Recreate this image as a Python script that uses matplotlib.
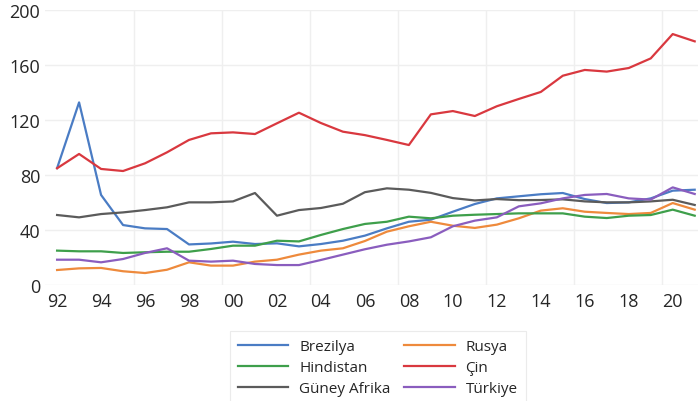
import numpy as np
import matplotlib
matplotlib.use("Agg")
import matplotlib.pyplot as plt

years = list(range(1992, 2022))

brezilya = [85, 132.8, 65.5, 43.6, 41.2, 40.7, 29.5, 30.2, 31.5, 29.8, 30.3, 28.1, 29.8, 32.2,
            35.9, 41.2, 46.0, 47.5, 53.3, 58.9, 63.0, 64.5, 66.0, 66.9, 62.5, 59.6, 60.1, 63.0, 68.6, 69.3]
rusya = [10.9, 12.1, 12.4, 10.0, 8.7, 11.1, 16.5, 14.1, 14.1, 17.0, 18.4, 22.1, 25.0, 26.7,
         32.0, 38.8, 42.7, 46.0, 43.1, 41.5, 43.9, 48.5, 54.1, 55.8, 53.3, 52.4, 51.6, 52.4, 59.6, 54.8]
hindistan = [25.0, 24.5, 24.5, 23.3, 23.8, 24.2, 24.2, 26.2, 28.6, 28.6, 32.2, 31.7, 36.4, 40.7,
             44.4, 46.0, 49.7, 48.5, 50.4, 51.1, 51.6, 52.1, 52.1, 52.1, 49.7, 48.7, 50.4, 50.9, 54.8, 50.4]
cin = [84.9, 95.3, 84.4, 82.9, 88.5, 96.5, 105.5, 110.3, 111.0, 109.8, 117.6, 125.3, 117.8, 111.5,
       109.0, 105.5, 101.8, 124.1, 126.5, 122.9, 130.0, 135.3, 140.4, 152.2, 156.4, 155.2, 157.8, 164.8, 182.5, 177.2]
guney_afrika = [50.9, 49.2, 51.6, 52.8, 54.5, 56.5, 60.1, 60.1, 60.8, 66.9, 50.4, 54.5, 56.0, 59.1,
                67.5, 70.3, 69.3, 67.0, 63.2, 61.5, 62.5, 61.7, 61.8, 62.3, 60.8, 60.1, 60.1, 60.8, 62.0, 58.2]
turkiye = [18.4, 18.4, 16.5, 18.9, 23.3, 26.7, 17.7, 17.0, 17.7, 15.3, 14.5, 14.5, 18.2, 22.1,
           26.0, 29.3, 31.7, 34.7, 42.7, 46.8, 49.2, 57.2, 59.4, 63.0, 65.5, 66.2, 63.0, 62.1, 71.0, 66.2]

series = [
    ("Brezilya", brezilya, "#4A7CC4"),
    ("Rusya", rusya, "#EE8A3C"),
    ("Hindistan", hindistan, "#3E9F4B"),
    ("Çin", cin, "#D9383F"),
    ("Güney Afrika", guney_afrika, "#5B5B5B"),
    ("Türkiye", turkiye, "#8A5DBE"),
]

plt.rcParams["font.family"] = ["Open Sans", "DejaVu Sans"]

fig = plt.figure(figsize=(6.98, 4.02), dpi=100)
ax = fig.add_axes([45 / 698, 116 / 402, 653 / 698, 275 / 402])

lines = {}
for name, vals, col in series:
    lines[name], = ax.plot(years, vals, color=col, lw=1.6, label=name)

ax.set_xlim(1991.45, 2021.15)
ax.set_ylim(0, 200)
ax.set_yticks(np.arange(0, 201, 40))
ax.set_xticks(years[::2])
ax.set_xticklabels([f"{y % 100:02d}" for y in years[::2]])
ax.set_xticks(np.arange(1995.5, 2022, 4), minor=True)

ax.grid(axis="y", which="major", color="#EFEFEF", lw=1)
ax.grid(axis="x", which="minor", color="#EFEFEF", lw=1)
ax.set_axisbelow(True)
ax.tick_params(axis="both", which="both", length=0, labelsize=13, colors="#262626")
ax.tick_params(axis="x", pad=5)
for s in ax.spines.values():
    s.set_visible(False)

# matplotlib fills legend columns first, reference reads row by row
order = ["Brezilya", "Hindistan", "Güney Afrika", "Rusya", "Çin", "Türkiye"]
leg = fig.legend([lines[n] for n in order], order,
                 loc="upper left", bbox_to_anchor=(222 / 698, 1 - 324 / 402), ncol=2,
                 fontsize=11, handlelength=3.3, handletextpad=0.7, columnspacing=0.9,
                 labelspacing=0.4, frameon=True, fancybox=False, borderpad=0.55)
leg.get_frame().set_edgecolor("#E6E6E6")
leg.get_frame().set_linewidth(0.8)
for t in leg.get_texts():
    t.set_color("#262626")

fig.savefig("out.png", dpi=100)
